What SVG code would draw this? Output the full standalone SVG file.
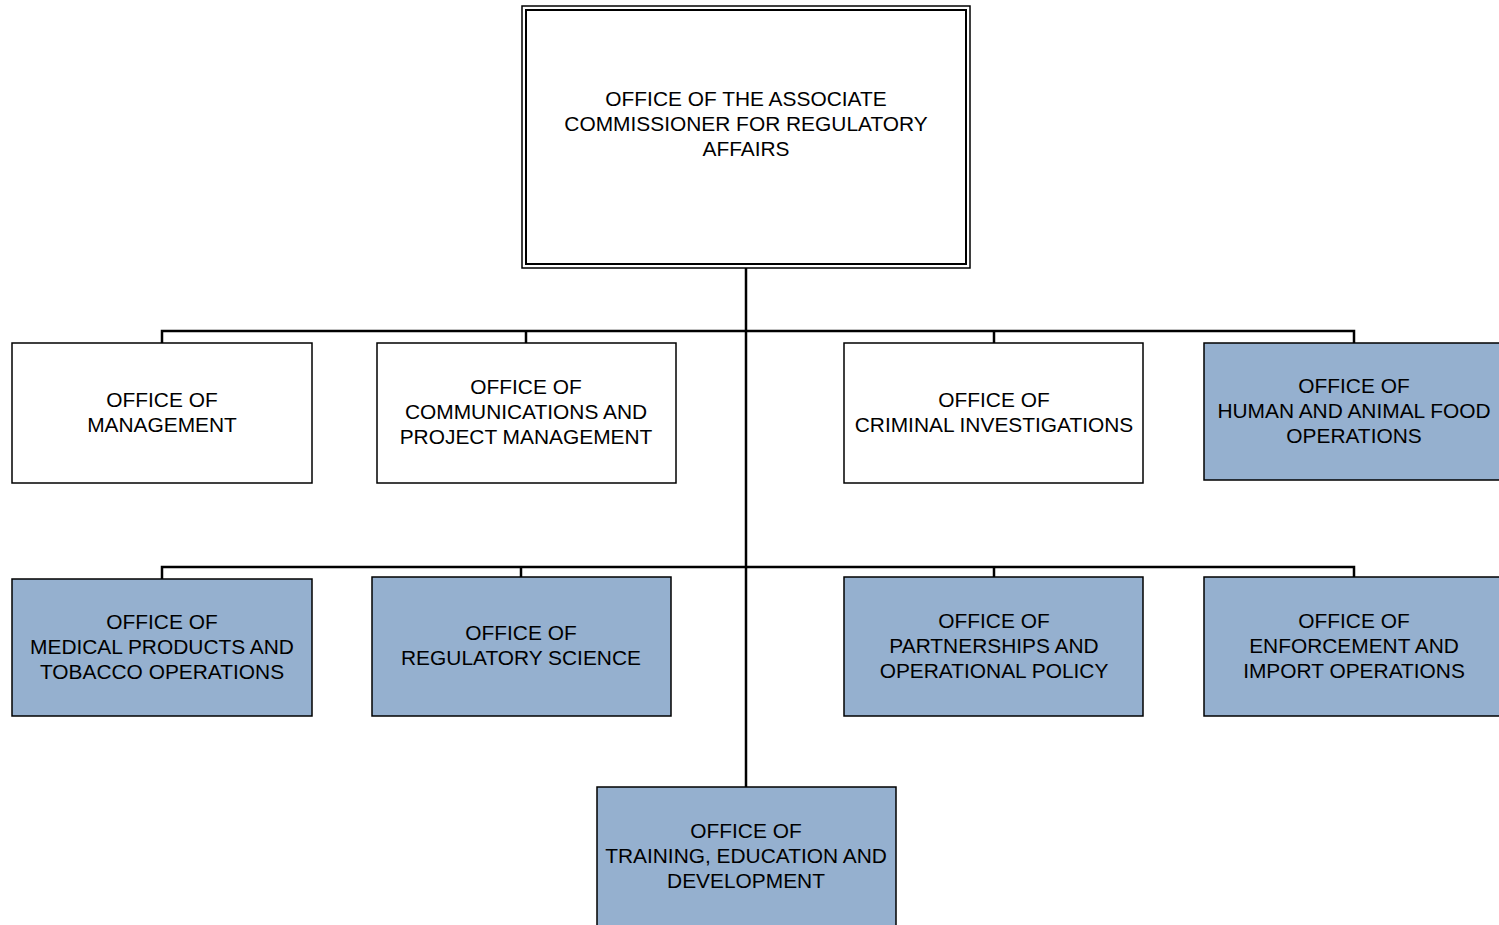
<svg xmlns="http://www.w3.org/2000/svg" width="1499" height="925" viewBox="0 0 1499 925">
<style>
.box{fill:#ffffff;stroke:#000;stroke-width:1.5}
.blue{fill:#95b0cf;stroke:#000;stroke-width:1.5}
.conn{fill:none;stroke:#000;stroke-width:2.5}
text{font-family:"Liberation Sans",Arial,sans-serif;font-size:20.9px;fill:#000;text-anchor:middle}
</style>
<rect width="1499" height="925" fill="#fff"/>
<g id="connectors">
<line class="conn" x1="746" y1="268" x2="746" y2="787"/>
<polyline class="conn" points="162,343 162,331 1354,331 1354,343"/>
<line class="conn" x1="526" y1="331" x2="526" y2="343"/>
<line class="conn" x1="994" y1="331" x2="994" y2="343"/>
<polyline class="conn" points="162,579 162,567 1354,567 1354,577"/>
<line class="conn" x1="521" y1="567" x2="521" y2="577"/>
<line class="conn" x1="994" y1="567" x2="994" y2="577"/>
</g>
<g id="ora">
<rect x="522" y="6" width="448" height="262" fill="#fff" stroke="#000" stroke-width="1.5"/>
<rect x="526" y="10" width="440" height="254" fill="none" stroke="#000" stroke-width="2"/>
<text x="746" y="106">OFFICE OF THE ASSOCIATE</text>
<text x="746" y="131">COMMISSIONER FOR REGULATORY</text>
<text x="746" y="156">AFFAIRS</text>
</g>
<g id="om">
<rect class="box" x="12" y="343" width="300" height="140"/>
<text x="162" y="407">OFFICE OF</text>
<text x="162" y="432">MANAGEMENT</text>
</g>
<g id="ocpm">
<rect class="box" x="377" y="343" width="299" height="140"/>
<text x="526" y="394">OFFICE OF</text>
<text x="526" y="419">COMMUNICATIONS AND</text>
<text x="526" y="444">PROJECT MANAGEMENT</text>
</g>
<g id="oci">
<rect class="box" x="844" y="343" width="299" height="140"/>
<text x="994" y="407">OFFICE OF</text>
<text x="994" y="432">CRIMINAL INVESTIGATIONS</text>
</g>
<g id="ohafo">
<rect class="blue" x="1204" y="343" width="300" height="137"/>
<text x="1354" y="393">OFFICE OF</text>
<text x="1354" y="418">HUMAN AND ANIMAL FOOD</text>
<text x="1354" y="443">OPERATIONS</text>
</g>
<g id="ompto">
<rect class="blue" x="12" y="579" width="300" height="137"/>
<text x="162" y="629">OFFICE OF</text>
<text x="162" y="654">MEDICAL PRODUCTS AND</text>
<text x="162" y="679">TOBACCO OPERATIONS</text>
</g>
<g id="ors">
<rect class="blue" x="372" y="577" width="299" height="139"/>
<text x="521" y="640">OFFICE OF</text>
<text x="521" y="665">REGULATORY SCIENCE</text>
</g>
<g id="opop">
<rect class="blue" x="844" y="577" width="299" height="139"/>
<text x="994" y="628">OFFICE OF</text>
<text x="994" y="653">PARTNERSHIPS AND</text>
<text x="994" y="678">OPERATIONAL POLICY</text>
</g>
<g id="oeio">
<rect class="blue" x="1204" y="577" width="300" height="139"/>
<text x="1354" y="628">OFFICE OF</text>
<text x="1354" y="653">ENFORCEMENT AND</text>
<text x="1354" y="678">IMPORT OPERATIONS</text>
</g>
<g id="oted">
<rect class="blue" x="597" y="787" width="299" height="150"/>
<text x="746" y="838">OFFICE OF</text>
<text x="746" y="863">TRAINING, EDUCATION AND</text>
<text x="746" y="888">DEVELOPMENT</text>
</g>
</svg>
